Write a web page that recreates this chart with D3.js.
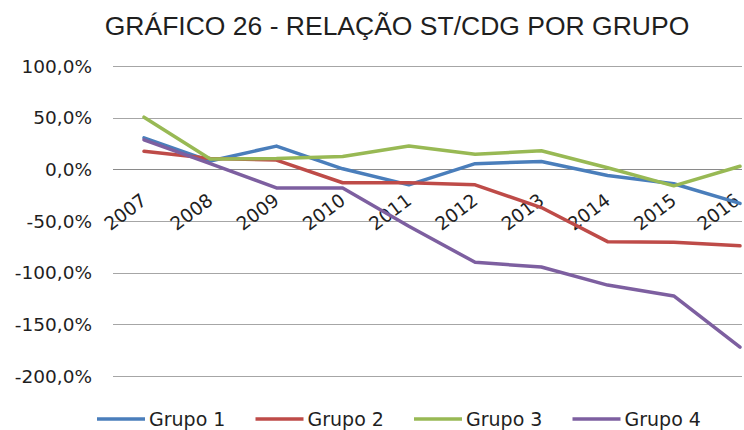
<!DOCTYPE html>
<html>
<head>
<meta charset="utf-8">
<script src="https://cdnjs.cloudflare.com/ajax/libs/d3/7.8.5/d3.min.js"></script>
<style>
	body { margin: 0; background: #fff; }
	svg text { font-family: "DejaVu Sans", Verdana, sans-serif; fill: #1f1f1f; }
</style>
</head>
<body>
<svg id="chart" width="744" height="430"></svg>
<script>
(function (d3) {

	var anos = ['2007', '2008', '2009', '2010', '2011', '2012', '2013', '2014', '2015', '2016'];
	var grupo1 = [30.5, 8, 22.5, 0.5, -15, 5.5, 7.5, -6, -14, -33];
	var grupo2 = [17.5, 10.5, 9, -13, -13, -15, -37, -70, -70.5, -74];
	var grupo3 = [50.5, 10, 10.5, 12.5, 22.5, 14.5, 18, 1.5, -16, 3];
	var grupo4 = [28.5, 5.5, -18, -18, -55, -90, -94.5, -112, -122.5, -172];
	var y_ticks = [100, 50, 0, -50, -100, -150, -200];

	var series = [
		{ key: 'Grupo 1', color: '#4a7ebb', values: grupo1 },
		{ key: 'Grupo 2', color: '#be4b48', values: grupo2 },
		{ key: 'Grupo 3', color: '#98b954', values: grupo3 },
		{ key: 'Grupo 4', color: '#7d5fa0', values: grupo4 }
	];

	var svg = d3.select('#chart');

	var x = d3.scalePoint().domain(anos).range([144, 740]);
	var y = d3.scaleLinear().domain([-200, 100]).range([376, 66]);

	// gridlines
	svg.append('g')
		.selectAll('line')
		.data(y_ticks)
		.join('line')
		.attr('x1', 113)
		.attr('x2', 742)
		.attr('y1', function(d) { return Math.round(y(d)) + 0.5; })
		.attr('y2', function(d) { return Math.round(y(d)) + 0.5; })
		.attr('stroke', function(d) { return d === 0 ? '#8a8a8a' : '#a6a6a6'; })
		.attr('stroke-width', 1);

	// y tick labels
	var fmt = function(d) { return d.toFixed(1).replace('.', ',') + '%'; };
	svg.append('g')
		.selectAll('text')
		.data(y_ticks)
		.join('text')
		.attr('x', 92)
		.attr('y', function(d) { return y(d); })
		.attr('dy', '0.36em')
		.attr('text-anchor', 'end')
		.style('font-size', '18.5px')
		.text(fmt);

	// x tick labels, rotated like the original
	svg.append('g')
		.selectAll('text')
		.data(anos)
		.join('text')
		.attr('transform', function(d) { return 'translate(' + Math.min(x(d) + 4, 741) + ',203) rotate(-37)'; })
		.attr('text-anchor', 'end')
		.style('font-size', '18.5px')
		.text(function(d) { return d; });

	// lines
	var line = d3.line()
		.x(function(d, i) { return x(anos[i]); })
		.y(function(d) { return y(d); });

	svg.append('g')
		.selectAll('path')
		.data(series)
		.join('path')
		.attr('d', function(s) { return line(s.values); })
		.attr('fill', 'none')
		.attr('stroke', function(s) { return s.color; })
		.attr('stroke-width', 3.5)
		.attr('stroke-linejoin', 'round')
		.attr('stroke-linecap', 'round');

	// title
	svg.append('text')
		.attr('x', 397)
		.attr('y', 35)
		.attr('text-anchor', 'middle')
		.style('font-family', '"Liberation Sans", Arial, sans-serif')
		.style('font-size', '26.5px')
		.text('GRÁFICO 26 - RELAÇÃO ST/CDG POR GRUPO');

	// legend
	var legend = svg.append('g')
		.selectAll('g')
		.data(series)
		.join('g')
		.attr('transform', function(s, i) { return 'translate(' + (97 + i * 158.5) + ',419)'; });

	legend.append('line')
		.attr('x1', 0)
		.attr('x2', 48)
		.attr('stroke', function(s) { return s.color; })
		.attr('stroke-width', 3.5);

	legend.append('text')
		.attr('x', 52)
		.attr('dy', '0.36em')
		.style('font-size', '19px')
		.text(function(s) { return s.key; });

}(d3));
</script>
</body>
</html>
